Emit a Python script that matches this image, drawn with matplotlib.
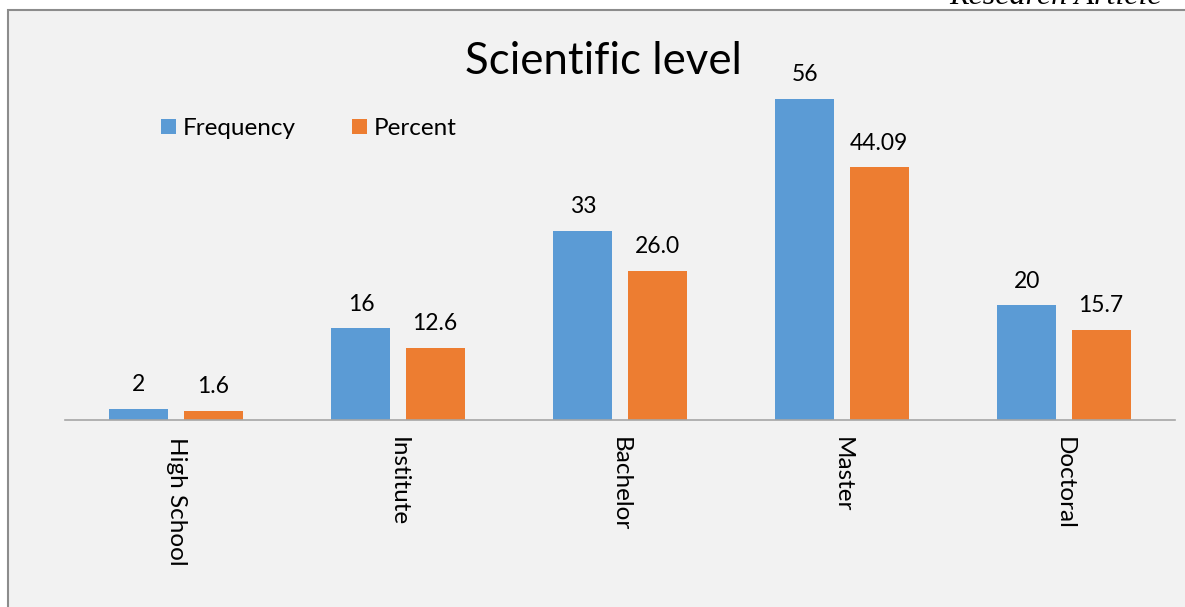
import matplotlib.pyplot as plt
from matplotlib.patches import Rectangle
import numpy as np

# data
categories = ['High School', 'Institute', 'Bachelor', 'Master', 'Doctoral']
frequency = [2, 16, 33, 56, 20]
percent = [1.6, 12.6, 26.0, 44.09, 15.7]
percent_labels = ['1.6', '12.6', '26.0', '44.09', '15.7']
freq_labels = ['2', '16', '33', '56', '20']

plt.rcParams['font.family'] = ['Lato', 'DejaVu Sans']

W, H = 1185, 607
fig = plt.figure(figsize=(W / 100, H / 100), dpi=100)
fig.patch.set_facecolor('white')

# gray chart frame
frame = Rectangle((8 / W, -0.01), 1.2, (H - 10) / H + 0.01, transform=fig.transFigure,
                  facecolor='#F2F2F2', edgecolor='#8C8C8C', linewidth=1.5, zorder=-10)
fig.patches.append(frame)

fig.text(1055 / W, 1 - 4 / H, 'Research Article', family='Liberation Serif', style='italic',
         fontsize=23, ha='center', va='baseline', color='black')

ax = fig.add_axes([65 / W, (H - 420) / H, (1175 - 65) / W, 380 / H])
ax.set_facecolor('none')

x = np.arange(len(categories))
bw = 0.266
off = 0.167
b1 = ax.bar(x - off, frequency, bw, color='#5B9BD5', label='Frequency')
b2 = ax.bar(x + off, percent, bw, color='#ED7D31', label='Percent')

for rect, lab in zip(b1, freq_labels):
    ax.text(rect.get_x() + rect.get_width() / 2, rect.get_height() + 2.4, lab,
            ha='center', va='bottom', fontsize=16.5)
for rect, lab in zip(b2, percent_labels):
    ax.text(rect.get_x() + rect.get_width() / 2, rect.get_height() + 2.4, lab,
            ha='center', va='bottom', fontsize=16.5)

ax.set_xlim(-0.5, len(categories) - 0.5)
ax.set_ylim(0, 66.3)
ax.set_yticks([])
ax.set_xticks(x)
ax.set_xticklabels(categories, rotation=270, fontsize=17.5)
ax.tick_params(axis='x', length=0, pad=12)
for s in ['top', 'left', 'right']:
    ax.spines[s].set_visible(False)
ax.spines['bottom'].set_color('#A6A6A6')
ax.spines['bottom'].set_linewidth(1.2)

fig.text(603 / W, 1 - 62 / H, 'Scientific level', ha='center', va='center', fontsize=31.5)

ax.legend(loc='upper left', bbox_to_anchor=(0.067, 0.852), ncol=2, frameon=False,
          fontsize=17.5, handlelength=0.6, handleheight=0.6, columnspacing=2.3,
          handletextpad=0.3)

fig.savefig('out.png', dpi=100)
